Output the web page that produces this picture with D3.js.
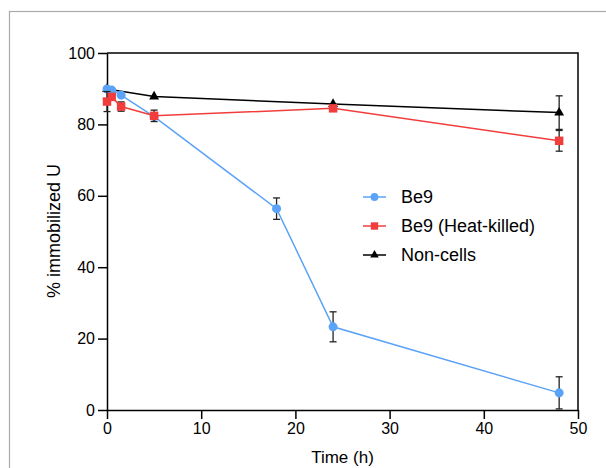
<!DOCTYPE html>
<html>
<head>
<meta charset="utf-8">
<script src="https://cdn.jsdelivr.net/npm/d3@7"></script>
<style>
  body { margin: 0; background: #fff; }
  svg text { font-family: "Liberation Sans", Arial, sans-serif; fill: #000; }
</style>
</head>
<body>
<svg id="chart" width="606" height="468"></svg>
<script>
// data: time (h), mean, error
const be9 = [
  [0, 89.9, 0], [0.5, 89.6, 0], [1.5, 88.2, 0], [5, 82.2, 0],
  [18, 56.4, 3.0], [24, 23.3, 4.2], [48, 4.8, 4.5]
];
const heatKilled = [
  [0, 86.4, 2.8], [0.5, 87.7, 0], [1.5, 85.0, 1.3], [5, 82.4, 1.6],
  [24, 84.5, 0.8], [48, 75.4, 2.9]
];
const nonCells = [
  [0, 89.9, 0], [5, 87.8, 0], [24, 85.7, 0], [48, 83.3, 4.7]
];
const xTicks = [0, 10, 20, 30, 40, 50];
const yTicks = [0, 20, 40, 60, 80, 100];

const series = [
  { name: "Non-cells", data: nonCells, color: "#000000", symbol: d3.symbolTriangle, size: 42 },
  { name: "Be9", data: be9, color: "#5ba3f7", symbol: d3.symbolCircle, size: 64 },
  { name: "Be9 (Heat-killed)", data: heatKilled, color: "#f23d3d", symbol: d3.symbolSquare, size: 72 }
];
const legendOrder = ["Be9", "Be9 (Heat-killed)", "Non-cells"];

const svg = d3.select("#chart");

// outer grey frame, running off the right and bottom edges
svg.append("rect")
    .attr("x", 9.5)
    .attr("y", 11.5)
    .attr("width", 700)
    .attr("height", 600)
    .attr("fill", "none")
    .attr("stroke", "#aaaaaa")
    .attr("stroke-width", 1.2);

const plot = { left: 107, right: 578, top: 53, bottom: 410 };

const x = d3.scaleLinear().domain([0, 50]).range([plot.left, plot.right]);
const y = d3.scaleLinear().domain([0, 100]).range([plot.bottom, plot.top]);

// box top and right
svg.append("path")
    .attr("d", `M${plot.left},${plot.top}H${plot.right}V${plot.bottom}`)
    .attr("fill", "none")
    .attr("stroke", "#000")
    .attr("stroke-width", 1.5);

const xAxis = svg.append("g")
    .attr("transform", `translate(0,${plot.bottom})`)
    .call(d3.axisBottom(x).tickValues(xTicks).tickSize(9).tickPadding(4).tickSizeOuter(0));

const yAxis = svg.append("g")
    .attr("transform", `translate(${plot.left},0)`)
    .call(d3.axisLeft(y).tickValues(yTicks).tickSize(9).tickPadding(3).tickSizeOuter(0));

[xAxis, yAxis].forEach(g => {
  g.select(".domain").attr("stroke-width", 1.5);
  g.selectAll(".tick line").attr("stroke-width", 1.5);
  g.selectAll(".tick text")
      .attr("font-size", 16)
      .attr("font-family", "Liberation Sans, Arial, sans-serif");
});

svg.append("text")
    .attr("x", (plot.left + plot.right) / 2)
    .attr("y", 463)
    .attr("text-anchor", "middle")
    .attr("font-size", 17)
    .text("Time (h)");

svg.append("text")
    .attr("transform", "translate(60,231) rotate(-90)")
    .attr("text-anchor", "middle")
    .attr("font-size", 18)
    .text("% immobilized U");

const line = d3.line()
    .x(d => x(d[0]))
    .y(d => y(d[1]));

series.forEach(s => {
  const g = svg.append("g");

  g.append("path")
      .datum(s.data)
      .attr("d", line)
      .attr("fill", "none")
      .attr("stroke", s.color)
      .attr("stroke-width", 1.5);

  const bars = g.selectAll(".err")
    .data(s.data.filter(d => d[2] > 0))
    .join("g")
      .attr("stroke", "#222")
      .attr("stroke-width", 1.3);

  bars.append("line")
      .attr("x1", d => x(d[0]))
      .attr("x2", d => x(d[0]))
      .attr("y1", d => y(d[1] - d[2]))
      .attr("y2", d => y(d[1] + d[2]));

  [-1, 1].forEach(k => {
    bars.append("line")
        .attr("x1", d => x(d[0]) - 3.5)
        .attr("x2", d => x(d[0]) + 3.5)
        .attr("y1", d => y(d[1] + k * d[2]))
        .attr("y2", d => y(d[1] + k * d[2]));
  });

  g.selectAll(".pt")
    .data(s.data)
    .join("path")
      .attr("transform", d => `translate(${x(d[0])},${y(d[1])})`)
      .attr("d", d3.symbol().type(s.symbol).size(s.size))
      .attr("fill", s.color);
});

// legend
const legend = svg.append("g")
    .attr("transform", "translate(363,197)");

legendOrder.forEach((name, i) => {
  const s = series.find(d => d.name === name);
  const row = legend.append("g")
      .attr("transform", `translate(0,${i * 29})`);

  row.append("line")
      .attr("x1", 0)
      .attr("x2", 23)
      .attr("stroke", s.color)
      .attr("stroke-width", 1.5);

  row.append("path")
      .attr("transform", "translate(11.5,0)")
      .attr("d", d3.symbol().type(s.symbol).size(s.size * 0.75))
      .attr("fill", s.color);

  row.append("text")
      .attr("x", 38)
      .attr("dy", "0.35em")
      .attr("font-size", 18)
      .text(name);
});
</script>
</body>
</html>
